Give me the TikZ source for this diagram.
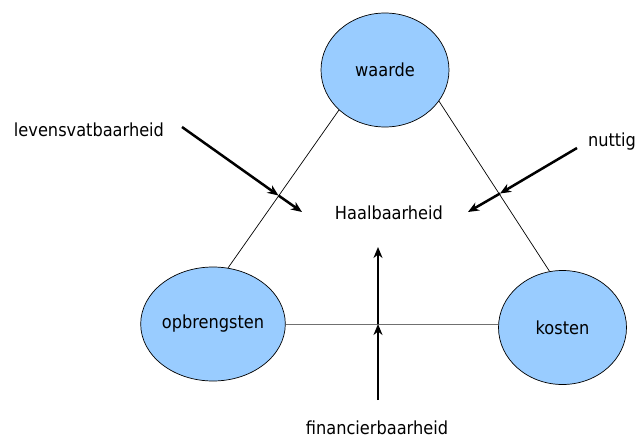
\documentclass[tikz,border=0pt]{standalone}
\usepackage{fontspec}
\setmainfont{DejaVu Sans Condensed}
\usetikzlibrary{arrows.meta,shapes.geometric}
\begin{document}
\begin{tikzpicture}[x=1pt,y=-1pt,
  factor/.style={ellipse, draw=black, line width=0.7pt, fill={rgb,255:red,153;green,204;blue,255},
                 minimum width=128pt, minimum height=114pt, inner sep=0pt, font=\fontsize{18}{20}\selectfont},
  label/.style={inner sep=0pt, font=\fontsize{18}{20}\selectfont},
  side/.style={line width=0.7pt, draw=black},
  base/.style={line width=1pt, draw={rgb,255:red,112;green,112;blue,112}},
  push/.style={line width=2.5pt, -{Stealth[length=11pt,width=9pt,inset=3.5pt]}}
]
\useasboundingbox (0,0) rectangle (637,439);

% the three corner quantities
\node[factor] (waarde) at (385,70) {waarde};
\node[factor] (opb) at (213,324) {opbrengsten};
\node[factor] (kosten) at (562.5,327.5) {kosten};

% triangle sides
\draw[side] (waarde.221) -- (opb.75);
\draw[side] (waarde.-30) -- (kosten.103);
\draw[base] (opb.east) -- (opb.east -| kosten.west);

% labels
\node[label] (haal) at (389,213) {Haalbaarheid};
\node[label] (lev) at (89,130) {levensvatbaarheid};
\node[label] (nut) at (612,142) {nuttig};
\node[label] (fin) at (377,428) {financierbaarheid};

% arrows towards the centre, each marked where it crosses a side
\coordinate (levA) at (182,127);
\coordinate (levB) at (278.5,195.5);
\coordinate (levC) at (302,212);
\coordinate (nutA) at (577,148);
\coordinate (nutB) at (500,193.5);
\coordinate (nutC) at (468,212);
\coordinate (finA) at (378,400);
\coordinate (finB) at (378,324);
\coordinate (finC) at (378,247);

\draw[push] (levA) -- (levB);
\draw[push] (levB) -- (levC);
\draw[push] (nutA) -- (nutB);
\draw[push] (nutB) -- (nutC);
\draw[push] (finA) -- (finB);
\draw[push] (finB) -- (finC);
\end{tikzpicture}
\end{document}
